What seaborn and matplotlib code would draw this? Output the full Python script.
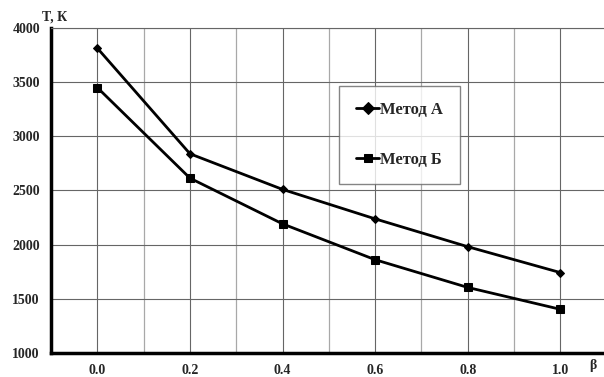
import matplotlib
matplotlib.use("Agg")
import matplotlib.pyplot as plt
import seaborn as sns
import pandas as pd
import numpy as np

beta = [0.0, 0.2, 0.4, 0.6, 0.8, 1.0]
method_a = [3814, 2839, 2510, 2238, 1981, 1742]
method_b = [3450, 2614, 2192, 1861, 1605, 1403]
series_names = ["Метод А", "Метод Б"]
xticks = [0.0, 0.2, 0.4, 0.6, 0.8, 1.0]
yticks = [1000, 1500, 2000, 2500, 3000, 3500, 4000]

sns.set_style("white")
plt.rcParams['font.family'] = ['Liberation Serif', 'DejaVu Serif']
plt.rcParams['font.weight'] = 'bold'

df = pd.DataFrame({
    "beta": beta * 2,
    "T": method_a + method_b,
    "method": [series_names[0]] * len(beta) + [series_names[1]] * len(beta),
})

fig = plt.figure(figsize=(6.04, 3.77), dpi=100)
ax = fig.add_axes([0.0845, 0.0637, 0.92, 0.862])

sns.lineplot(data=df, x="beta", y="T", hue="method", style="method",
             markers={series_names[0]: "D", series_names[1]: "s"},
             dashes=False, palette=["black", "black"], linewidth=2,
             markeredgecolor="black", ax=ax, legend=True)
for line, ms in zip(ax.lines[:2], [4.5, 6]):
    line.set_markersize(ms)

ax.set_xlim(-0.1, 1.1)
ax.set_ylim(1000, 4000)
ax.set_xticks(xticks)
ax.set_xticklabels([f"{v:.1f}" for v in xticks], fontsize=10, fontweight='bold')
ax.set_xticks(np.arange(-0.1, 1.11, 0.1), minor=True)
ax.set_yticks(yticks)
ax.set_yticklabels([str(v) for v in yticks], fontsize=10, fontweight='bold')
ax.grid(True, which='major', axis='x', color='#666666', linewidth=0.8)
ax.grid(True, which='minor', axis='x', color='#a8a8a8', linewidth=0.9)
ax.grid(True, which='major', axis='y', color='#666666', linewidth=0.8)
ax.tick_params(axis='x', which='both', direction='in', length=3, width=2, pad=8)
ax.tick_params(axis='y', which='major', direction='in', length=4, width=1.5, pad=8)
for s in ['left', 'bottom']:
    ax.spines[s].set_linewidth(2.5)
    ax.spines[s].set_color('black')
ax.spines['right'].set_visible(False)
ax.spines['top'].set_color('#666666')
ax.spines['top'].set_linewidth(0.8)
ax.set_xlabel("")
ax.set_ylabel("")

fig.text(0.09, 0.955, "T, К", fontsize=10, fontweight='bold', ha='center', va='center')
fig.text(0.982, 0.031, "β", fontsize=10, fontweight='bold', ha='center', va='center')

leg = ax.legend(loc='upper left', bbox_to_anchor=(0.519, 0.823), frameon=True,
                fancybox=False, edgecolor='#666666',
                prop={'weight': 'bold', 'size': 12}, handlelength=1.4,
                labelspacing=2.0, borderpad=1.0, handletextpad=0.05,
                borderaxespad=0)
leg.get_frame().set_linewidth(1.0)

fig.savefig("out.png", dpi=100)
